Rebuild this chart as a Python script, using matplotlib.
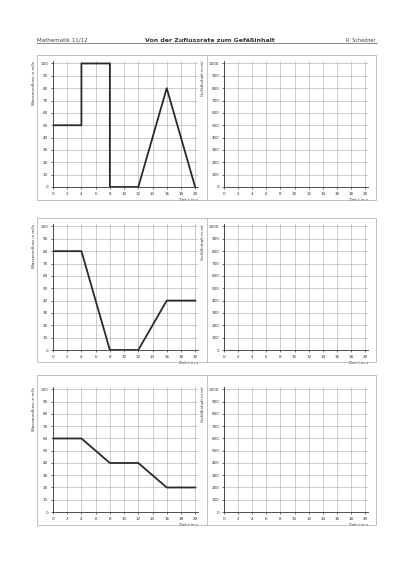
import numpy as np
import matplotlib.pyplot as plt
from matplotlib.patches import Rectangle

# Zuflussraten (Zeit in s, Rate in ml/s)
t1 = [0, 4, 4, 8, 8, 12, 16, 20]
r1 = [50, 50, 100, 100, 0, 0, 80, 0]
t2 = [0, 4, 8, 12, 16, 20]
r2 = [80, 80, 0, 0, 40, 40]
t3 = [0, 4, 8, 12, 16, 20]
r3 = [60, 60, 40, 40, 20, 20]

xticks = np.arange(0, 21, 2)
rate_ticks = np.arange(0, 101, 10)
vol_ticks = np.arange(0, 1001, 100)

W, H = 400, 565
fig = plt.figure(figsize=(4, 5.65), dpi=100)
fig.patch.set_facecolor('white')


def px(x0, y0, x1, y1):
    # pixel box (top-left origin) -> figure fraction
    return [x0 / W, 1 - y1 / H, (x1 - x0) / W, (y1 - y0) / H]


def style(ax, ymax, yticks, ylabel):
    ax.set_xlim(0, 20.4)
    ax.set_ylim(0, ymax * 1.02)
    ax.set_xticks(xticks)
    ax.set_yticks(yticks)
    ax.grid(True, color='#b8b8b8', lw=0.5)
    ax.set_axisbelow(True)
    for s in ['top', 'right']:
        ax.spines[s].set_visible(False)
    for s in ['left', 'bottom']:
        ax.spines[s].set_linewidth(0.6)
        ax.spines[s].set_color('#333333')
    ax.tick_params(labelsize=3, length=1.5, width=0.5, pad=2, colors='#333333')
    ax.set_ylabel(ylabel, fontsize=3, loc='top', labelpad=3, color='#333333')
    ax.set_xlabel('Zeit t in s', fontsize=3, loc='right', labelpad=1.5, color='#333333')


# header
fig.text(37 / W, 1 - 40 / H, 'Mathematik 11/12', fontsize=4, va='center', ha='left', color='#444444')
fig.text(210 / W, 1 - 40 / H, 'Von der Zuflussrate zum Gefäßinhalt', fontsize=4.5,
         fontweight='bold', va='center', ha='center', color='#333333')
fig.text(376 / W, 1 - 40 / H, 'R. Schedner', fontsize=3.5, va='center', ha='right', color='#444444')
fig.add_artist(plt.Line2D([37 / W, 377 / W], [1 - 43 / H, 1 - 43 / H], color='#555555', lw=0.5))

rows = [(55, 200, 63, 187, t1, r1), (218, 362, 226, 350, t2, r2), (375, 525, 389, 512, t3, r3)]
for top, bot, atop, abot, t, r in rows:
    fig.add_artist(Rectangle((36.5 / W, 1 - bot / H), (376 - 36.5) / W, (bot - top) / H,
                             transform=fig.transFigure, fill=False, ec='#aaaaaa', lw=0.5))
    fig.add_artist(plt.Line2D([207 / W, 207 / W], [1 - top / H, 1 - bot / H],
                              color='#aaaaaa', lw=0.5))
    ax = fig.add_axes(px(53, atop - 2, 198, abot))
    style(ax, 100, rate_ticks, 'Wasserzufluss in ml/s')
    ax.plot(t, r, color='#2a2a2a', lw=1.3)
    ax2 = fig.add_axes(px(224, atop - 2, 368, abot))
    style(ax2, 1000, vol_ticks, 'Gefäßinhalt in ml')

fig.savefig('out.png', dpi=100, facecolor='white')
